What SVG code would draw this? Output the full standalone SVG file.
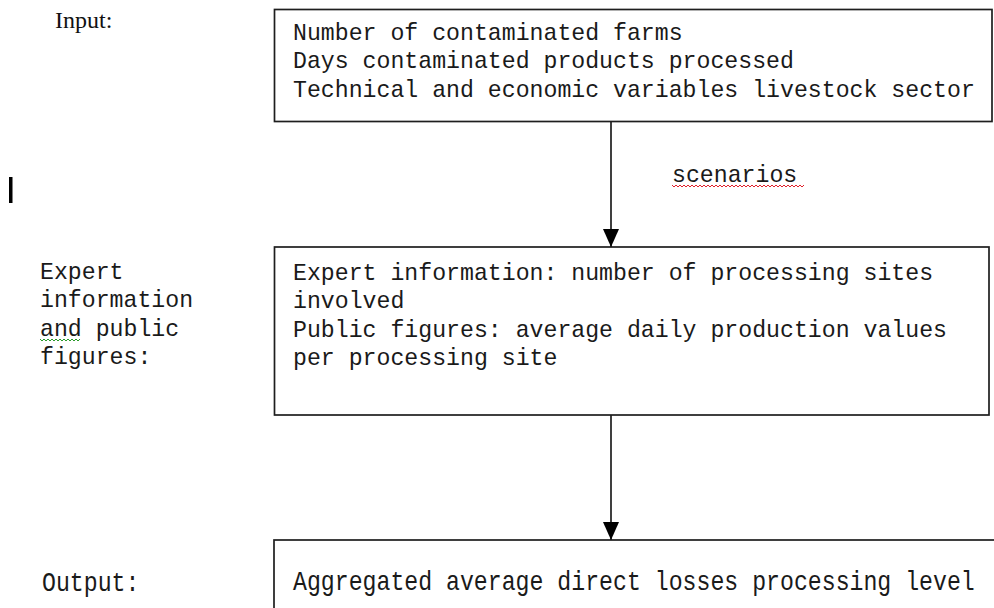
<svg xmlns="http://www.w3.org/2000/svg" width="994" height="608" viewBox="0 0 994 608">
  <style>
    .box { fill: #fff; stroke: #1e1e1e; stroke-width: 1.7; }
    .mono { font-family: "Liberation Mono", "Courier New", monospace; font-size: 23.2px; fill: #1a1a1a; }
    .serif { font-family: "Liberation Serif", "Times New Roman", serif; font-size: 24px; fill: #111; }
    .edge { stroke: #1e1e1e; stroke-width: 1.7; fill: none; }
    .squig-red { stroke: #e0202a; stroke-width: 1; fill: none; }
    .squig-green { stroke: #2a9a2a; stroke-width: 1; fill: none; }
  </style>
  <defs>
    <marker id="arrow" markerUnits="userSpaceOnUse" markerWidth="20" markerHeight="20" refX="18" refY="8" orient="auto">
      <path d="M0,0 L18,8 L0,16 Z" fill="#000"/>
    </marker>
  </defs>

  <rect width="994" height="608" fill="#fff"/>

  <!-- row labels -->
  <g id="label-input">
    <text class="serif" x="55" y="28">Input:</text>
  </g>
  <rect id="cursor-mark" x="9" y="177" width="3.5" height="26" fill="#000"/>
  <g id="label-expert">
    <text class="mono" x="40" y="279">Expert</text>
    <text class="mono" x="40" y="307">information</text>
    <text class="mono" x="40" y="336">and public</text>
    <text class="mono" x="40" y="364">figures:</text>
    <path class="squig-green" d="M40,339 l2,2 l2,-2 l2,2 l2,-2 l2,2 l2,-2 l2,2 l2,-2 l2,2 l2,-2 l2,2 l2,-2 l2,2 l2,-2 l2,2 l2,-2 l2,2 l2,-2 l2,2 l2,-2"/>
  </g>
  <g id="label-output">
    <text class="mono" x="42" y="572" transform="translate(0,-95.3) scale(1,1.2)" font-size="22.7">Output:</text>
  </g>

  <!-- input node -->
  <g id="node-input">
    <rect class="box" x="274.5" y="9.5" width="717.5" height="112"/>
    <text class="mono" x="293" y="40">Number of contaminated farms</text>
    <text class="mono" x="293" y="68">Days contaminated products processed</text>
    <text class="mono" x="293" y="97">Technical and economic variables livestock sector</text>
  </g>

  <!-- expert information node -->
  <g id="node-expert">
    <rect class="box" x="274.5" y="247" width="714.5" height="168"/>
    <text class="mono" x="293" y="280">Expert information: number of processing sites</text>
    <text class="mono" x="293" y="308">involved</text>
    <text class="mono" x="293" y="337">Public figures: average daily production values</text>
    <text class="mono" x="293" y="365">per processing site</text>
  </g>

  <!-- output node -->
  <g id="node-output">
    <rect class="box" x="274" y="540" width="730" height="100"/>
    <text class="mono" x="293" y="571" transform="translate(0,-95.2) scale(1,1.2)" font-size="22.7">Aggregated average direct losses processing level</text>
  </g>

  <!-- connectors -->
  <g id="connectors">
    <line class="edge" x1="611" y1="121.5" x2="611" y2="247" marker-end="url(#arrow)"/>
    <line class="edge" x1="611" y1="415" x2="611" y2="540" marker-end="url(#arrow)"/>
    <text class="mono" x="672" y="182">scenarios</text>
    <path class="squig-red" d="M672,185 l2,2 l2,-2 l2,2 l2,-2 l2,2 l2,-2 l2,2 l2,-2 l2,2 l2,-2 l2,2 l2,-2 l2,2 l2,-2 l2,2 l2,-2 l2,2 l2,-2 l2,2 l2,-2 l2,2 l2,-2 l2,2 l2,-2 l2,2 l2,-2 l2,2 l2,-2 l2,2 l2,-2 l2,2 l2,-2 l2,2 l2,-2 l2,2 l2,-2 l2,2 l2,-2 l2,2 l2,-2 l2,2 l2,-2 l2,2 l2,-2 l2,2 l2,-2 l2,2 l2,-2 l2,2 l2,-2 l2,2 l2,-2 l2,2 l2,-2 l2,2 l2,-2 l2,2 l2,-2 l2,2 l2,-2 l2,2 l2,-2 l2,2 l2,-2 l2,2 l2,-2"/>
  </g>
</svg>
